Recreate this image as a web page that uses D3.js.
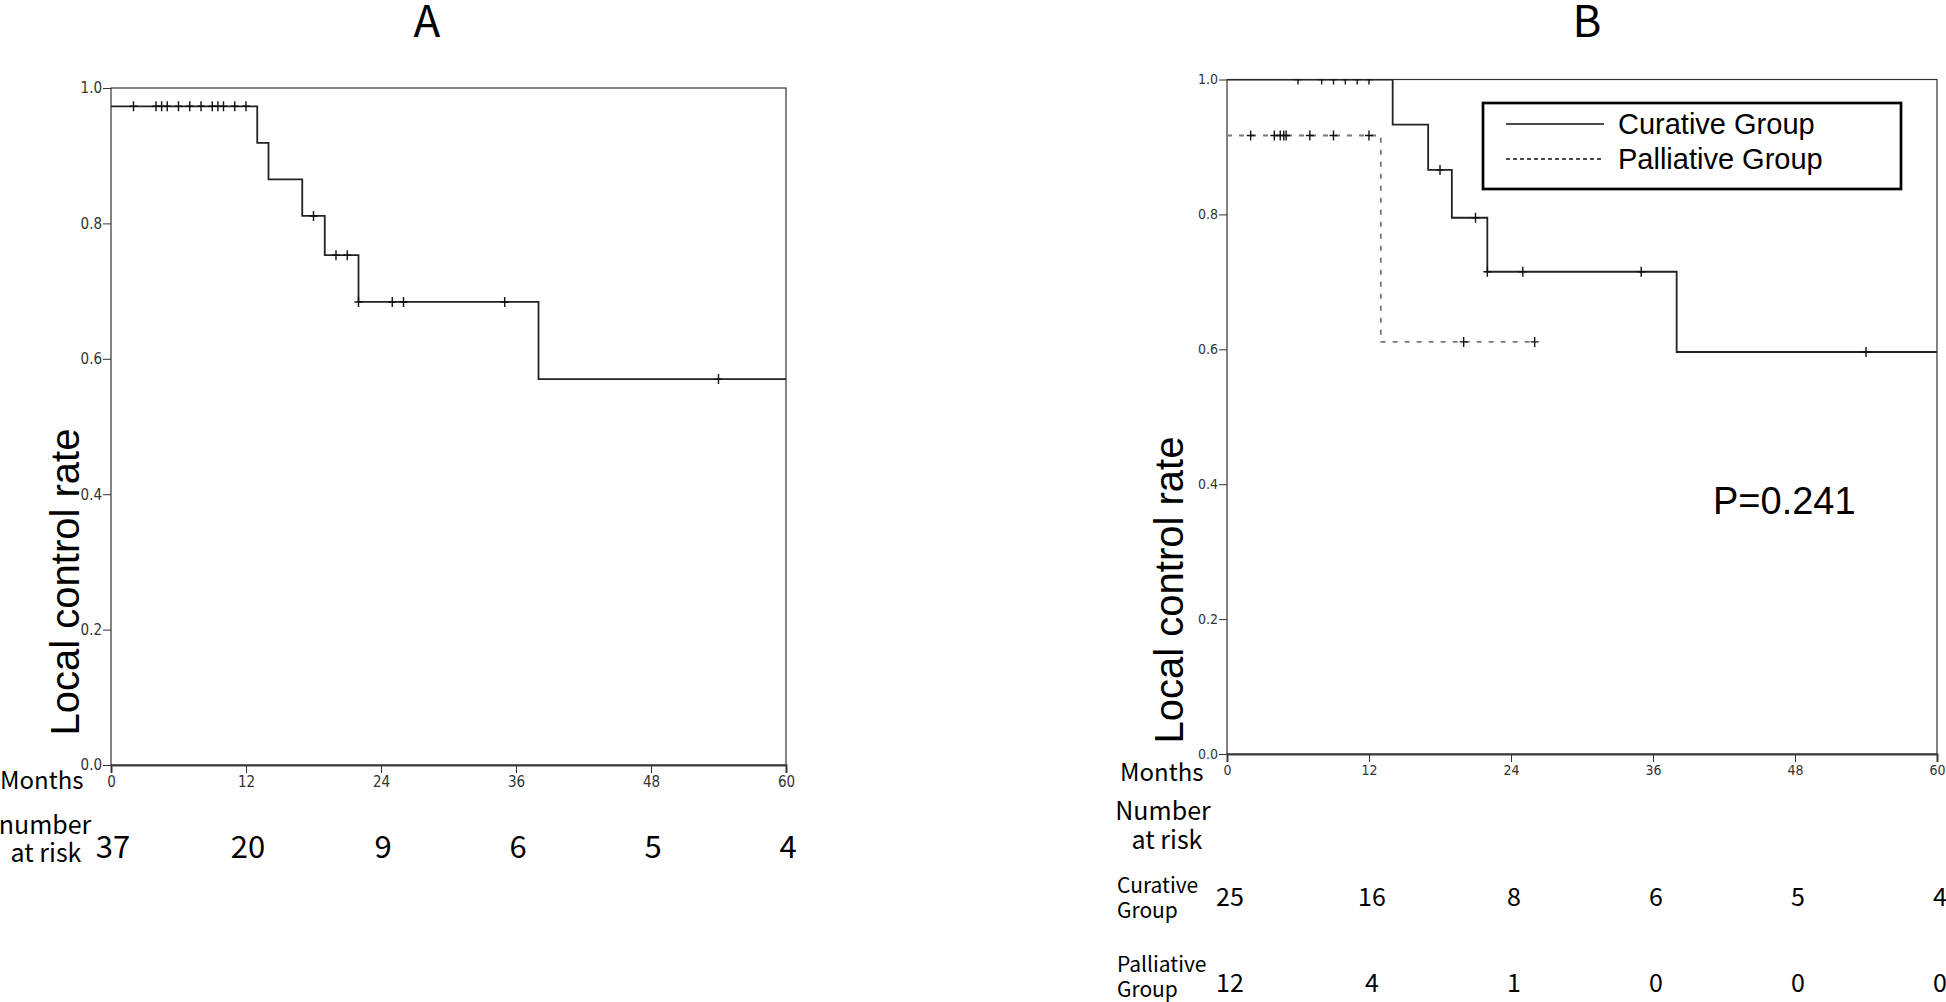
<!DOCTYPE html>
<html>
<head>
<meta charset="utf-8">
<script src="https://cdn.jsdelivr.net/npm/d3@7"></script>
<style>
  body { margin: 0; background: #fff; }
  svg { display: block; }
  .tick text { font-family: "Liberation Sans Narrow", "DejaVu Sans Condensed", sans-serif; fill: #333; }
</style>
</head>
<body>
<div id="chart"></div>
<script>
// ---- data ----
const monthTicks = [0, 12, 24, 36, 48, 60];
const rateTicks = [0, 0.2, 0.4, 0.6, 0.8, 1.0];

// panel A: all patients
const stepTimesA = [0, 13, 14, 17, 19, 22, 38];
const stepRatesA = [0.973, 0.919, 0.865, 0.811, 0.753, 0.684, 0.570];
const censorA = [2, 4, 4.5, 5, 6, 7, 8, 9, 9.5, 10, 11, 12, 18, 20, 21, 22, 25, 26, 35, 54];
const riskA = [37, 20, 9, 6, 5, 4];

// panel B: curative vs palliative
const stepTimesCur = [0, 14, 17, 19, 22, 38];
const stepRatesCur = [1.0, 0.933, 0.866, 0.795, 0.715, 0.596];
const censorCur = [6, 8, 9, 10, 11, 12, 18, 21, 22, 25, 35, 54];
const riskCur = [25, 16, 8, 6, 5, 4];

const stepTimesPal = [0, 13];
const stepRatesPal = [0.917, 0.611];
const censorPal = [2, 4, 4.5, 4.8, 5, 7, 9, 12, 20, 26];
const riskPal = [12, 4, 1, 0, 0, 0];

const groupNames = ["Curative Group", "Palliative Group"];
const pValue = "P=0.241";

// ---- page ----
const W = 1946, H = 1002;
const svg = d3.select("#chart").append("svg")
  .attr("width", W).attr("height", H);

const sans = "'Liberation Sans', Arial, sans-serif";
const jp = "'Noto Sans CJK JP', 'Noto Sans', sans-serif";

const stepLine = d3.line().curve(d3.curveStepAfter);

// rate at time t from a step series
const rateAt = function(times, rates, t) {
  let r = rates[0];
  for (let i = 0; i < times.length; i++) if (times[i] <= t) r = rates[i];
  return r;
}

const drawPanel = function(p) {
  const x = d3.scaleLinear().domain([0, 60]).range([p.left, p.right]);
  const y = d3.scaleLinear().domain([0, 1]).range([p.bottom, p.top]);
  const g = svg.append("g");

  // axes
  g.append("g")
    .attr("transform", `translate(0,${p.bottom})`)
    .call(d3.axisBottom(x).tickValues(monthTicks).tickSize(8).tickPadding(3))
    .call(a => a.select(".domain").attr("stroke", "#444").attr("stroke-width", 2))
    .call(a => a.selectAll(".tick line").attr("stroke", "#333"))
    .call(a => a.selectAll(".tick text").attr("font-size", p.tickFont));

  g.append("g")
    .attr("transform", `translate(${p.left},0)`)
    .call(d3.axisLeft(y).tickValues(rateTicks).tickFormat(d3.format(".1f")).tickSize(8).tickPadding(1))
    .call(a => a.select(".domain").remove())
    .call(a => a.selectAll(".tick line").attr("stroke", "#333"))
    .call(a => a.selectAll(".tick text").attr("font-size", p.tickFont));

  // frame
  g.append("rect")
    .attr("x", p.left).attr("y", p.top)
    .attr("width", p.right - p.left).attr("height", p.bottom - p.top)
    .attr("fill", "none").attr("stroke", "#333").attr("stroke-width", 1.2);

  const clipId = "clip" + p.name;
  svg.append("clipPath").attr("id", clipId).append("rect")
    .attr("x", p.left).attr("y", p.top)
    .attr("width", p.right - p.left).attr("height", p.bottom - p.top);
  const plot = g.append("g").attr("clip-path", `url(#${clipId})`);

  p.series.forEach(function(s) {
    const pts = s.times.map((t, i) => [x(t), y(s.rates[i])]);
    pts.push([x(s.end), y(s.rates[s.rates.length - 1])]);
    plot.append("path")
      .attr("d", stepLine(pts))
      .attr("fill", "none")
      .attr("stroke", s.color)
      .attr("stroke-width", 1.8)
      .attr("stroke-dasharray", s.dash || null);

    s.censor.forEach(function(t) {
      const cx = x(t), cy = y(rateAt(s.times, s.rates, t));
      plot.append("path")
        .attr("d", `M${cx - 4},${cy}H${cx + 4}M${cx},${cy - 5}V${cy + 5}`)
        .attr("stroke", "#111").attr("stroke-width", 1.4).attr("fill", "none");
    });
  });

  // title
  svg.append("text")
    .attr("x", p.titleX).attr("y", 37)
    .attr("text-anchor", "middle")
    .attr("font-family", jp).attr("font-size", 44)
    .text(p.name);

  // y label
  svg.append("text")
    .attr("transform", `translate(${p.ylabX},${p.ylabY}) rotate(-90)`)
    .attr("text-anchor", "middle")
    .attr("font-family", sans).attr("font-size", 40)
    .text("Local control rate");

  return x;
}

// ---- panel A ----
const xA = drawPanel({
  name: "A", left: 111, right: 786, top: 88, bottom: 765,
  tickFont: 15, titleX: 427, ylabX: 79, ylabY: 582,
  series: [
    {times: stepTimesA, rates: stepRatesA, end: 60, censor: censorA, color: "#222"}
  ]
});

svg.append("text").attr("x", 0).attr("y", 789)
  .attr("font-family", jp).attr("font-size", 24).text("Months");
svg.append("text").attr("x", 45).attr("y", 834).attr("text-anchor", "middle")
  .attr("font-family", jp).attr("font-size", 25).text("number");
svg.append("text").attr("x", 46).attr("y", 862).attr("text-anchor", "middle")
  .attr("font-family", jp).attr("font-size", 25).text("at risk");

svg.append("g").selectAll("text").data(riskA).join("text")
  .attr("x", (d, i) => xA(monthTicks[i]) + 2)
  .attr("y", 858)
  .attr("text-anchor", "middle")
  .attr("font-family", jp).attr("font-size", 31)
  .text(d => d);

// ---- panel B ----
const xB = drawPanel({
  name: "B", left: 1227, right: 1937, top: 79.5, bottom: 754,
  tickFont: 14, titleX: 1587, ylabX: 1183, ylabY: 590,
  series: [
    {times: stepTimesCur, rates: stepRatesCur, end: 60, censor: censorCur, color: "#222"},
    {times: stepTimesPal, rates: stepRatesPal, end: 26, censor: censorPal, color: "#777", dash: "5,7"}
  ]
});

// legend
const leg = svg.append("g");
leg.append("rect")
  .attr("x", 1483).attr("y", 103).attr("width", 418).attr("height", 86)
  .attr("fill", "#fff").attr("stroke", "#000").attr("stroke-width", 2.7);
groupNames.forEach(function(name, i) {
  const ly = 124 + i * 35;
  leg.append("line")
    .attr("x1", 1506).attr("x2", 1604).attr("y1", ly).attr("y2", ly)
    .attr("stroke", "#111").attr("stroke-width", 1.5)
    .attr("stroke-dasharray", i === 1 ? "4,3" : null);
  leg.append("text")
    .attr("x", 1618).attr("y", ly + 9.5)
    .attr("font-family", sans).attr("font-size", 29)
    .text(name);
});

svg.append("text").attr("x", 1713).attr("y", 514)
  .attr("font-family", sans).attr("font-size", 38).text(pValue);

// risk table B
svg.append("text").attr("x", 1120).attr("y", 781)
  .attr("font-family", jp).attr("font-size", 24).text("Months");
svg.append("text").attr("x", 1163).attr("y", 820).attr("text-anchor", "middle")
  .attr("font-family", jp).attr("font-size", 25).text("Number");
svg.append("text").attr("x", 1167).attr("y", 849).attr("text-anchor", "middle")
  .attr("font-family", jp).attr("font-size", 25).text("at risk");

const rowLabels = [["Curative", "Group", 893], ["Palliative", "Group", 972]];
rowLabels.forEach(function(r) {
  svg.append("text").attr("x", 1117).attr("y", r[2])
    .attr("font-family", jp).attr("font-size", 21).text(r[0]);
  svg.append("text").attr("x", 1117).attr("y", r[2] + 25)
    .attr("font-family", jp).attr("font-size", 21).text(r[1]);
});

[[riskCur, 906], [riskPal, 992]].forEach(function(row) {
  svg.append("g").selectAll("text").data(row[0]).join("text")
    .attr("x", (d, i) => xB(monthTicks[i]) + 3)
    .attr("y", row[1])
    .attr("text-anchor", "middle")
    .attr("font-family", jp).attr("font-size", 25)
    .text(d => d);
});
</script>
</body>
</html>
